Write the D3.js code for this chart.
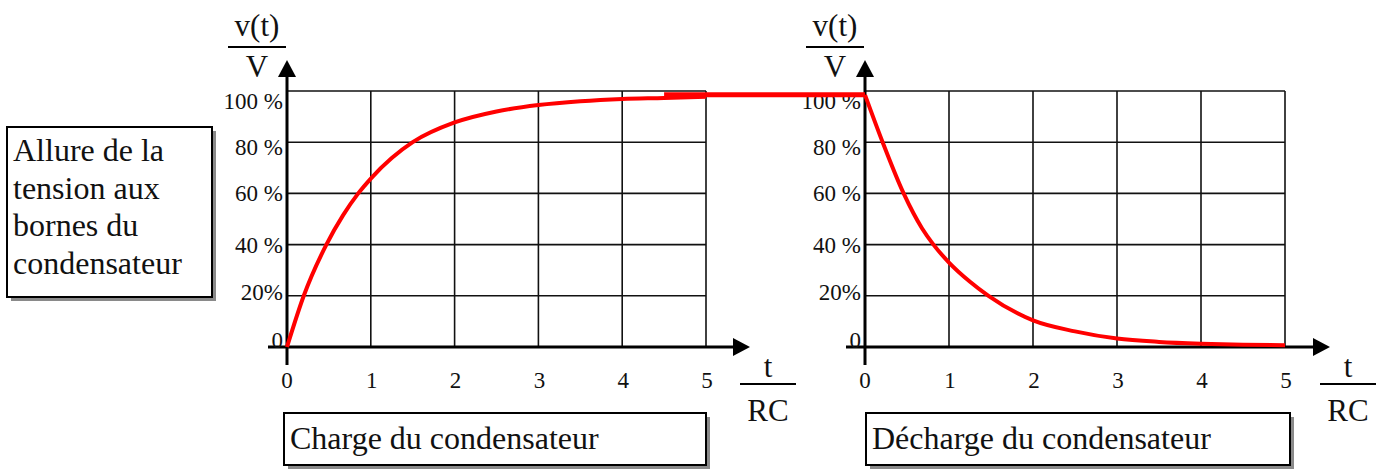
<!DOCTYPE html>
<html>
<head>
<meta charset="utf-8">
<script src="https://cdn.jsdelivr.net/npm/d3@7"></script>
<style>
  body { margin: 0; background: #fff; }
</style>
</head>
<body>
<div id="chart"></div>
<script>
// curves (t/RC, v/V)
var chargeT = [0, 0.2, 0.47, 0.67, 0.85, 1, 1.25, 1.5, 2, 2.5, 3, 3.5, 4, 4.5, 5];
var chargeV = [0, 0.2, 0.4, 0.515, 0.6, 0.658, 0.738, 0.8, 0.877, 0.92, 0.945, 0.96, 0.969, 0.973, 0.978];
var dischargeT = [0, 0.21, 0.46, 0.68, 0.815, 1, 1.25, 1.47, 2, 2.5, 3, 3.5, 4, 4.5, 5];
var dischargeV = [0.985, 0.8, 0.6, 0.463, 0.4, 0.33, 0.255, 0.2, 0.104, 0.061, 0.033, 0.02, 0.013, 0.009, 0.007];
var xTicks = [0, 1, 2, 3, 4, 5];
var yTicks = [0, 0.2, 0.4, 0.6, 0.8, 1];
var yTickLabels = ["0", "20%", "40 %", "60 %", "80 %", "100 %"];
var sideText = ["Allure de la", "tension aux", "bornes du", "condensateur"];
var chargeTitle = "Charge du condensateur";
var dischargeTitle = "Décharge du condensateur";

var width = 1386, height = 469;
var serif = "'Liberation Serif', 'Times New Roman', Times, 'DejaVu Serif', serif";
var svg = d3.select("#chart").append("svg")
  .attr("width", width)
  .attr("height", height)
  .attr("font-family", serif)
  .style("font-family", serif);

var y = d3.scaleLinear().domain([0, 1]).range([347, 91]);
var xL = d3.scaleLinear().domain([0, 5]).range([287, 706]);
var xR = d3.scaleLinear().domain([0, 5]).range([865, 1285]);

function txt(g) {
  return g.append("text").attr("font-family", serif).attr("fill", "#111");
}

function drawPanel(x, axisStart, axisEnd) {
  var g = svg.append("g");
  // grid
  g.selectAll(".vgrid").data(xTicks).enter().append("line")
    .attr("x1", d => x(d)).attr("x2", d => x(d))
    .attr("y1", y(0)).attr("y2", y(1))
    .attr("stroke", "#111").attr("stroke-width", 1.6);
  g.selectAll(".hgrid").data(yTicks).enter().append("line")
    .attr("x1", x(0)).attr("x2", x(5))
    .attr("y1", d => y(d)).attr("y2", d => y(d))
    .attr("stroke", "#111").attr("stroke-width", 1.6);

  // axes with arrows
  var x0 = x(0), y0 = y(0);
  g.append("line").attr("x1", x0).attr("x2", x0).attr("y1", y0 + 18).attr("y2", 74)
    .attr("stroke", "#000").attr("stroke-width", 3);
  g.append("path").attr("d", "M" + (x0 - 9) + ",77L" + x0 + ",60L" + (x0 + 9) + ",77Z").attr("fill", "#000");
  g.append("line").attr("x1", axisStart).attr("x2", axisEnd - 14).attr("y1", y0).attr("y2", y0)
    .attr("stroke", "#000").attr("stroke-width", 3);
  g.append("path").attr("d", "M" + (axisEnd - 17) + "," + (y0 - 9) + "L" + axisEnd + "," + y0 + "L" + (axisEnd - 17) + "," + (y0 + 9) + "Z").attr("fill", "#000");

  // y tick labels
  g.selectAll(".ylab").data(yTicks).enter().append("text")
    .attr("font-family", serif).attr("fill", "#111")
    .attr("x", x0 - 4)
    .attr("y", (d, i) => y(d) + (i === 0 ? -7 : i === 5 ? 10 : i === 1 ? -4 : i === 4 ? 5 : 0))
    .attr("dy", "0.35em")
    .attr("text-anchor", "end")
    .attr("font-size", 23)
    .text((d, i) => yTickLabels[i]);

  // x tick labels
  g.selectAll(".xlab").data(xTicks).enter().append("text")
    .attr("font-family", serif).attr("fill", "#111")
    .attr("x", d => x(d) + (d === 0 ? 0 : 1))
    .attr("y", 388)
    .attr("text-anchor", "middle")
    .attr("font-size", 23)
    .text(d => d);

  // v(t)/V label
  var lx = x0 - 30;
  txt(g).attr("x", lx).attr("y", 36).attr("text-anchor", "middle").attr("font-size", 31).text("v(t)");
  g.append("line").attr("x1", lx - 29).attr("x2", lx + 29).attr("y1", 47).attr("y2", 47).attr("stroke", "#000").attr("stroke-width", 2);
  txt(g).attr("x", lx).attr("y", 77).attr("text-anchor", "middle").attr("font-size", 31).text("V");

  // t/RC label
  var tx = axisEnd + 18;
  txt(g).attr("x", tx).attr("y", 377).attr("text-anchor", "middle").attr("font-size", 31).text("t");
  g.append("line").attr("x1", tx - 28).attr("x2", tx + 28).attr("y1", 384).attr("y2", 384).attr("stroke", "#000").attr("stroke-width", 2);
  txt(g).attr("x", tx).attr("y", 421).attr("text-anchor", "middle").attr("font-size", 31).text("RC");
  return g;
}

function box(x0, y0, x1, y1) {
  svg.append("rect").attr("x", x0 + 4).attr("y", y0 + 4).attr("width", x1 - x0).attr("height", y1 - y0)
    .attr("fill", "#8a8a8a");
  svg.append("rect").attr("x", x0).attr("y", y0).attr("width", x1 - x0).attr("height", y1 - y0)
    .attr("fill", "#fff").attr("stroke", "#000").attr("stroke-width", 2);
}

drawPanel(xL, 268, 750);
drawPanel(xR, 846, 1330);

// curves
function curve(x, ts) {
  return d3.line().curve(d3.curveMonotoneX).x((d, i) => x(ts[i])).y(d => y(d));
}
svg.append("path").datum(chargeV)
  .attr("d", curve(xL, chargeT))
  .attr("fill", "none").attr("stroke", "#ff0000").attr("stroke-width", 4);
svg.append("path").datum(dischargeV)
  .attr("d", curve(xR, dischargeT))
  .attr("fill", "none").attr("stroke", "#ff0000").attr("stroke-width", 4);
// plateau joining end of charge to start of discharge
var last = chargeV.length - 1;
svg.append("line")
  .attr("x1", xL(chargeT[last - 1])).attr("y1", y(dischargeV[0]))
  .attr("x2", xR(dischargeT[0])).attr("y2", y(dischargeV[0]))
  .attr("stroke", "#ff0000").attr("stroke-width", 5);

// side box
box(7, 127, 212, 297);
svg.selectAll(".side").data(sideText).enter().append("text")
  .attr("font-family", serif).attr("fill", "#111")
  .attr("x", 13).attr("y", (d, i) => 161 + i * 37.5)
  .attr("font-size", 32)
  .text(d => d);

// bottom boxes
box(284, 413, 706, 465);
txt(svg).attr("x", 290).attr("y", 449).attr("font-size", 32).text(chargeTitle);
box(866, 413, 1290, 465);
txt(svg).attr("x", 872).attr("y", 449).attr("font-size", 32).text(dischargeTitle);
</script>
</body>
</html>
